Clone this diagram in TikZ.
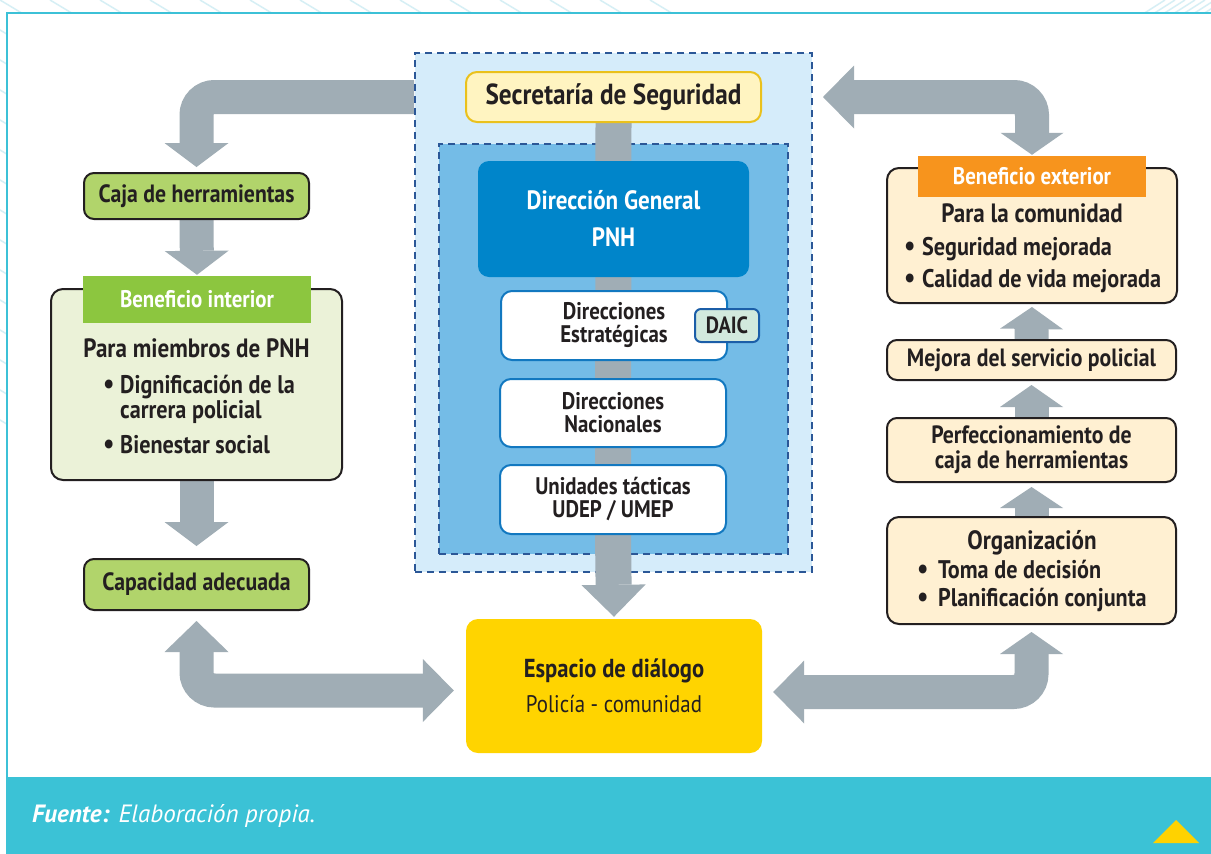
\documentclass[tikz,border=0pt]{standalone}
\usepackage{fontspec}
\setmainfont{PT Sans}[FakeStretch=0.87]
\newfontfamily\capfont{PT Sans}
\usetikzlibrary{arrows.meta}
\definecolor{arrowgray}{HTML}{A0ADB5}
\definecolor{framecyan}{HTML}{3CC1D7}
\definecolor{barcyan}{HTML}{3BC2D6}
\definecolor{faint}{HTML}{D6EFF5}
\definecolor{triyellow}{HTML}{FFD200}
\definecolor{outerfill}{HTML}{D5ECFA}
\definecolor{innerfill}{HTML}{74BCE7}
\definecolor{dashblue}{HTML}{2B5797}
\definecolor{dgblue}{HTML}{0085CA}
\definecolor{boxblue}{HTML}{1278C0}
\definecolor{daicfill}{HTML}{D2E9DD}
\definecolor{daicline}{HTML}{1B5EA8}
\definecolor{secfill}{HTML}{FFF4C1}
\definecolor{secline}{HTML}{EAC11C}
\definecolor{espfill}{HTML}{FFD400}
\definecolor{boxgreen}{HTML}{B1D46B}
\definecolor{headgreen}{HTML}{8CC63F}
\definecolor{lightgreen}{HTML}{EBF2D8}
\definecolor{cream}{HTML}{FFF0D2}
\definecolor{orange}{HTML}{F7941D}
\definecolor{textdark}{HTML}{231F20}
\newcommand\myfs[2]{\fontsize{#1}{#2}\selectfont}
\newcommand\bul[1]{\hbox to #1{{\myfs{29}{29}\textbullet}\hss}}
\pgfdeclarelayer{lzero}
\pgfdeclarelayer{lone}
\pgfdeclarelayer{ltwo}
\pgfsetlayers{lzero,lone,ltwo,main}
\begin{document}
\begin{tikzpicture}[x=1pt,y=-1pt,
  greenbox/.style={draw=textdark, fill=boxgreen, line width=2pt, rounded corners=10pt, inner sep=0pt, text=textdark, font=\bfseries\myfs{25}{27}},
  creambox/.style={draw=textdark, fill=cream, line width=2pt, rounded corners=10pt, inner sep=0pt, align=center, text=textdark, font=\bfseries\myfs{25}{25}},
  whitebox/.style={draw=boxblue, fill=white, line width=2pt, rounded corners=11pt, inner sep=0pt, align=center, text=textdark, font=\bfseries\myfs{24}{23}},
  headlabel/.style={inner sep=0pt, text=white, font=\bfseries\myfs{24}{26}},
  dashbox/.style={draw=dashblue, line width=2pt, dash pattern=on 7pt off 5pt, inner sep=0pt},
  bodytext/.style={inner sep=0pt, text=textdark, font=\bfseries\myfs{25.5}{27}},
  titletext/.style={inner sep=0pt, text=textdark, font=\bfseries\myfs{26.5}{28}},
  linkgray/.style={draw=arrowgray, line width=36pt},
  fatarrow/.style={draw=arrowgray, line width=34pt, rounded corners=18pt,
     -{Triangle[length=24pt,width=64pt,line width=0pt]}},
  faintline/.style={draw=faint, line width=1.5pt}
]
\useasboundingbox (0,0) rectangle (1211,854);
\begin{pgfonlayer}{lzero}
\fill[white] (0,0) rectangle (1211,854);
\end{pgfonlayer}
% faint decoration outside the frame
\begin{scope}
\clip (0,0) rectangle (1211,12) (0,12) rectangle (6,777);
\foreach \s in {-700,-650,...,650} \draw[faintline] (\s,0) -- ++(1000,600);
\foreach \s in {1165,1175,...,1225} \draw[faintline] (\s,0) -- ++(-22,14);
\end{scope}
% frame and bottom bar
\draw[framecyan, line width=2.5pt] (7,777) -- (7,13) -- (1211,13);
\fill[barcyan] (6,777) rectangle (1211,854);
\fill[triyellow] (1153,843) -- (1176,820) -- (1199,843) -- cycle;
\node[anchor=base west, inner sep=0pt, text=white, font=\capfont\myfs{25}{27}] (fuente) at (32,822)
  {\textbf{\textit{Fuente:}} \textit{Elaboración propia.}};

% central column
\begin{pgfonlayer}{lone}
\node[dashbox, fill=outerfill, minimum width=397pt, minimum height=519pt] (outerbox) at (613.5,312.5) {};
\node[dashbox, fill=innerfill, minimum width=349pt, minimum height=410pt] (innerbox) at (613.5,349) {};
\end{pgfonlayer}
\node[draw=secline, fill=secfill, line width=2pt, rounded corners=11pt, inner sep=0pt,
  minimum width=295pt, minimum height=50pt, text=textdark, font=\bfseries\myfs{29}{31}] (secre) at (613.5,97) {Secretaría de Seguridad};
\node[fill=dgblue, rounded corners=11pt, inner sep=0pt, minimum width=271pt, minimum height=116pt,
  align=center, text=white, font=\bfseries\myfs{26.5}{37}] (dirgen) at (613.5,219) {Dirección General\\PNH};
\node[whitebox, minimum width=226pt, minimum height=69pt] (direst) at (614,325.5) {Direcciones\\Estratégicas};
\node[draw=daicline, fill=daicfill, line width=2pt, rounded corners=6pt, inner sep=0pt,
  minimum width=64pt, minimum height=33pt, text=textdark, font=\bfseries\myfs{23.5}{25}] (daic) at (727,325.5) {DAIC};
\node[whitebox, minimum width=226pt, minimum height=68pt] (dirnac) at (613,413) {Direcciones\\Nacionales};
\node[whitebox, minimum width=226pt, minimum height=69pt] (unid) at (613,499.5) {Unidades tácticas\\UDEP / UMEP};
\node[fill=espfill, rounded corners=12pt, inner sep=0pt, minimum width=296pt, minimum height=134pt,
  align=center, text=textdark, font=\myfs{24}{35}] (espacio) at (614,686) {{\bfseries\myfs{26}{35}Espacio de diálogo}\\Policía - comunidad};

% left column
\node[greenbox, minimum width=225pt, minimum height=46pt] (caja) at (196.5,196) {Caja de herramientas};
\node[draw=textdark, fill=lightgreen, line width=2pt, rounded corners=12pt, inner sep=0pt,
  minimum width=291pt, minimum height=191pt] (benint) at (196.5,384.5) {};
\node[headlabel, fill=headgreen, minimum width=228pt, minimum height=47pt] (benintHead) at (197,299.5) {Beneficio interior};
\node[titletext, anchor=base] (bi0) at (196.5,357) {Para miembros de PNH};
\node[bodytext, anchor=base west] (bi1) at (103,393) {\bul{17pt}Dignificación de la};
\node[bodytext, anchor=base west] (bi2) at (120,418) {carrera policial};
\node[bodytext, anchor=base west] (bi3) at (103,453) {\bul{17pt}Bienestar social};
\node[greenbox, minimum width=225pt, minimum height=51pt] (capac) at (196.5,584.5) {Capacidad adecuada};

% right column
\node[draw=textdark, fill=cream, line width=2pt, rounded corners=12pt, inner sep=0pt,
  minimum width=290pt, minimum height=135pt] (benext) at (1032,235.5) {};
\node[headlabel, fill=orange, minimum width=228pt, minimum height=41pt] (benextHead) at (1032,176.5) {Beneficio exterior};
\node[titletext, anchor=base] (be0) at (1032,222) {Para la comunidad};
\node[bodytext, anchor=base west] (be1) at (904,255) {\bul{18pt}Seguridad mejorada};
\node[bodytext, anchor=base west] (be2) at (904,287) {\bul{18pt}Calidad de vida mejorada};
\node[creambox, minimum width=289pt, minimum height=40pt] (mejora) at (1031.5,360) {Mejora del servicio policial};
\node[creambox, minimum width=289pt, minimum height=64pt] (perf) at (1031.5,450) {Perfeccionamiento de\\caja de herramientas};
\node[draw=textdark, fill=cream, line width=2pt, rounded corners=12pt, inner sep=0pt,
  minimum width=289pt, minimum height=107pt] (organ) at (1031.5,570.5) {};
\node[titletext, anchor=base] (or0) at (1032,549) {Organización};
\node[bodytext, anchor=base west] (or1) at (917,578) {\bul{21pt}Toma de decisión};
\node[bodytext, anchor=base west] (or2) at (917,606) {\bul{21pt}Planificación conjunta};

% connectors
\coordinate (tlstart) at (outerbox.west |- secre.west);
\coordinate (trtip) at ([xshift=10pt]outerbox.east |- secre.east);
\begin{pgfonlayer}{lzero}
\draw[fatarrow, shorten >=5pt] (tlstart) -| (caja.north);
\end{pgfonlayer}
\begin{pgfonlayer}{ltwo}
\draw[linkgray] (secre.south) -- (unid.south);
\draw[fatarrow, line width=36pt, -{Triangle[length=32pt,width=64pt,line width=0pt]}, shorten >=2pt] (unid.south) -- (espacio.north);
\draw[fatarrow, shorten >=1pt] (caja.south) -- (benintHead.north);
\draw[fatarrow, shorten >=12pt] (benint.south) -- (capac.north);
\draw[fatarrow, {Triangle[length=31pt,width=64pt,line width=0pt]}-{Triangle[length=31pt,width=63pt,line width=0pt]},
  shorten <=10pt, shorten >=12pt] (capac.south) |- ([yshift=-4.5pt]espacio.west);
\draw[fatarrow, {Triangle[length=22pt,width=63pt,line width=0pt]}-{Triangle[length=31pt,width=63pt,line width=0pt]},
  shorten <=7pt, shorten >=11pt] (organ.south) |- ([yshift=-6pt]espacio.east);
\draw[fatarrow, -{Triangle[length=21pt,width=63pt,line width=0pt]}, shorten >=4pt] (organ.north) -- (perf.south);
\draw[fatarrow, -{Triangle[length=22pt,width=63pt,line width=0pt]}, shorten >=4pt] (perf.north) -- (mejora.south);
\draw[fatarrow, -{Triangle[length=22pt,width=63pt,line width=0pt]}, shorten >=3pt] (mejora.north) -- (benext.south);
\draw[fatarrow, {Triangle[length=31pt,width=63pt,line width=0pt]}-{Triangle[length=22pt,width=63pt,line width=0pt]},
  shorten >=1pt] (trtip) -| (benextHead.north);
\end{pgfonlayer}
\end{tikzpicture}
\end{document}
